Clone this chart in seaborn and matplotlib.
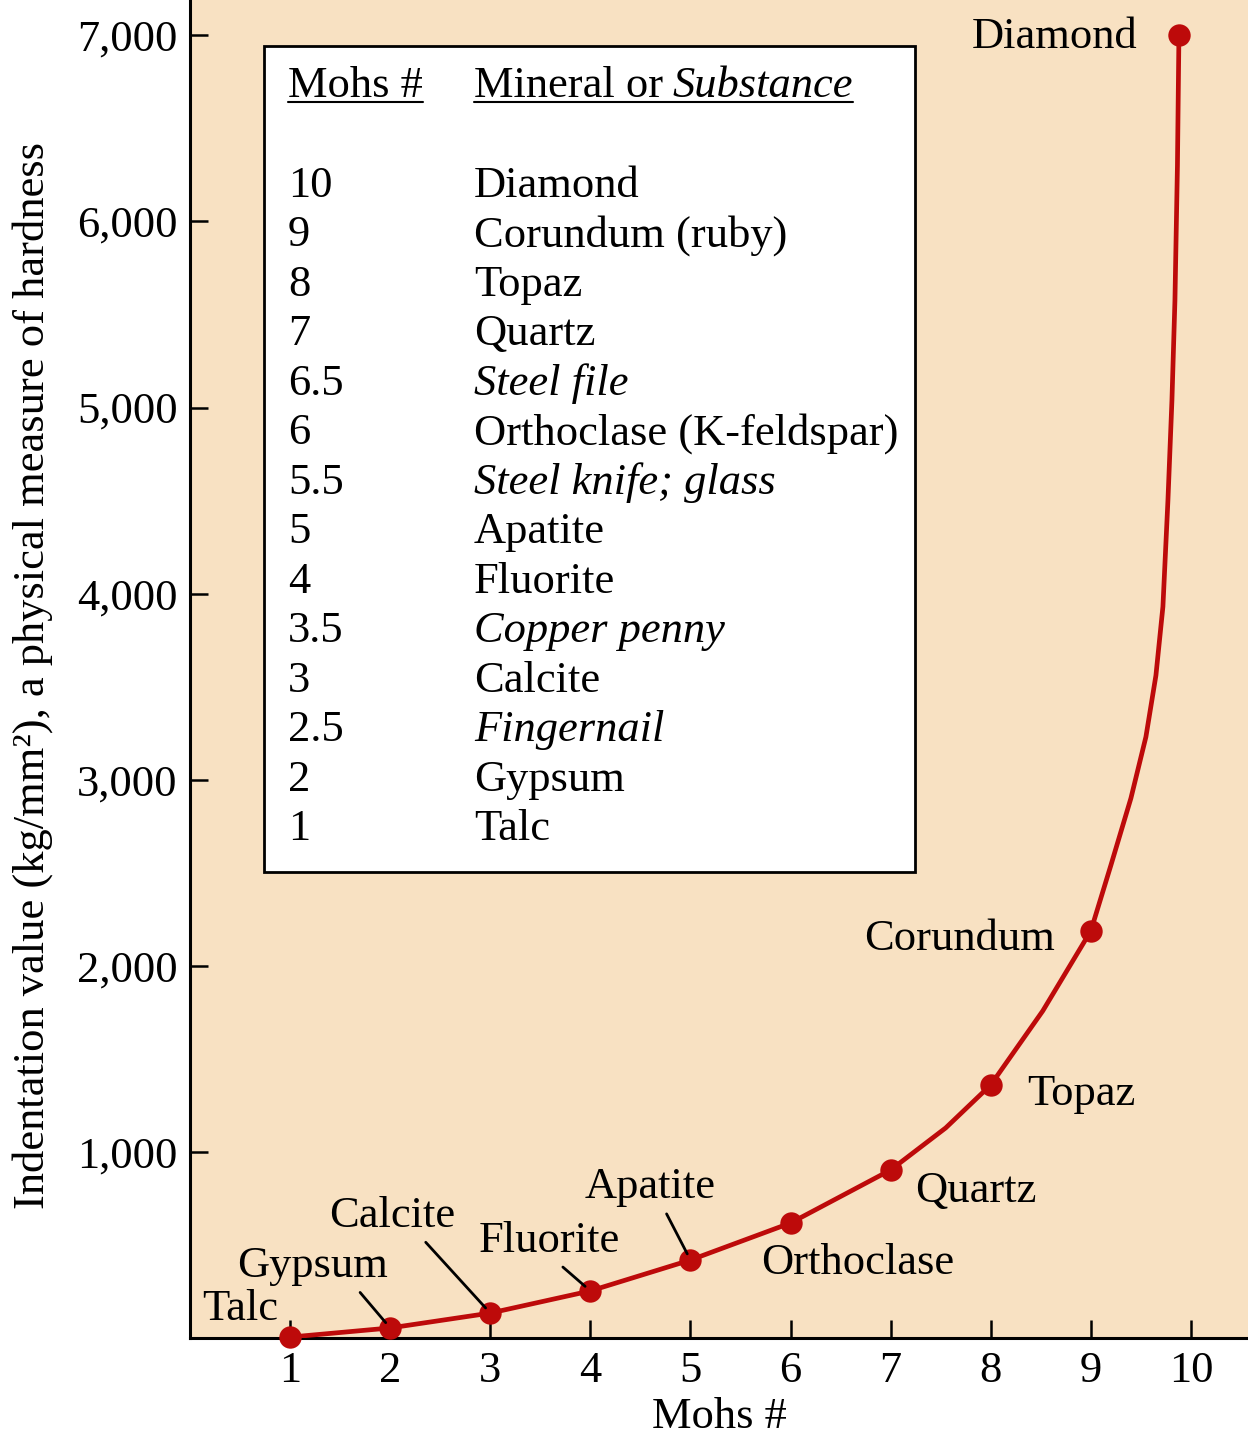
import seaborn as sns
import matplotlib.pyplot as plt
from matplotlib.patches import Rectangle
from matplotlib.lines import Line2D

# Mohs scale minerals and their indentation hardness (kg/mm^2)
mohs = [1, 2, 3, 4, 5, 6, 7, 8, 9, 10]
minerals = ['Talc', 'Gypsum', 'Calcite', 'Fluorite', 'Apatite',
            'Orthoclase', 'Quartz', 'Topaz', 'Corundum', 'Diamond']
indentation = [5, 54, 134, 253, 419, 618, 903, 1360, 2188, 7000]
# where the dots are drawn along x (the Diamond dot sits just short of 10)
dot_x = [1, 2, 3, 4, 5, 6, 7, 8, 9, 9.88]

# points
curve_x = [1, 2, 3, 4, 5, 6, 7, 7.55, 8, 8.52, 9, 9.20, 9.40, 9.55, 9.65,
           9.72, 9.77, 9.81, 9.84, 9.865, 9.88]
curve_y = [5, 54, 134, 253, 419, 618, 903, 1129, 1360, 1758, 2188, 2540,
           2900, 3230, 3560, 3930, 4500, 5038, 5575, 6300, 7000]

# reference table in the box
table_mohs = ['10', '9', '8', '7', '6.5', '6', '5.5', '5', '4', '3.5',
              '3', '2.5', '2', '1']
table_names = ['Diamond', 'Corundum (ruby)', 'Topaz', 'Quartz', 'Steel file',
               'Orthoclase (K-feldspar)', 'Steel knife; glass', 'Apatite',
               'Fluorite', 'Copper penny', 'Calcite', 'Fingernail', 'Gypsum',
               'Talc']
table_substance = [False, False, False, False, True, False, True, False,
                   False, True, False, True, False, False]

x_ticks = [1, 2, 3, 4, 5, 6, 7, 8, 9, 10]
y_ticks = [1000, 2000, 3000, 4000, 5000, 6000, 7000]

RED = '#bd0a0a'
TAN = '#f8e1c2'
FS = 32

sns.set_theme(style='ticks')
plt.rcParams['font.family'] = ['Liberation Serif', 'DejaVu Serif']
plt.rcParams['text.color'] = 'black'
plt.rcParams['axes.labelcolor'] = 'black'

W, H = 1248, 1440
fig = plt.figure(figsize=(W / 100, H / 100), dpi=100)
fig.patch.set_facecolor('white')

# axes box in pixels: left 190, bottom 1338, runs to the top/right edge
L, B = 190, 1338
ax = fig.add_axes([L / W, 1 - B / H, (W - L) / W, B / H])
ax.set_facecolor(TAN)


def axfrac(px, py):
    return (px - L) / (W - L), (B - py) / B


sns.lineplot(x=curve_x, y=curve_y, sort=False, color=RED, lw=3.4, ax=ax,
             zorder=4)
sns.scatterplot(x=dot_x, y=indentation, s=260, color=RED, edgecolor=RED,
                linewidth=0, ax=ax, zorder=6, clip_on=False)

ax.set_xlim(0, 10.57)
ax.set_ylim(0, 7190)
ax.set_xticks(x_ticks)
ax.set_xticklabels([str(v) for v in x_ticks])
ax.set_yticks(y_ticks)
ax.set_yticklabels([f'{v:,}' for v in y_ticks])

for side in ['top', 'right']:
    ax.spines[side].set_visible(False)
for side in ['left', 'bottom']:
    ax.spines[side].set_linewidth(2.2)
    ax.spines[side].set_color('black')
ax.tick_params(direction='in', length=13, width=1.8, labelsize=FS,
               colors='black', pad=9)

ax.set_xlabel('Mohs #', fontsize=FS)
ax.xaxis.set_label_coords(0.5, -0.044)
ax.set_ylabel('Indentation value (kg/mm²), a physical measure of hardness',
              fontsize=FS)
ax.yaxis.set_label_coords(-0.1295, 0.4955)

# labels next to the dots; (text x, text y, leader line start as bbox fraction)
label_layout = {
    'Talc': (0.118, 156, None),
    'Gypsum': (0.469, 387, 0.78),
    'Calcite': (1.39, 656, 0.72),
    'Fluorite': (2.88, 521, 0.55),
    'Apatite': (3.94, 812, 0.60),
    'Orthoclase': (5.71, 403, None),
    'Quartz': (7.24, 790, None),
    'Topaz': (8.36, 1312, None),
    'Corundum': (6.73, 2145, None),
    'Diamond': (7.81, 6989, None),
}
for name, px, py in zip(minerals, dot_x, indentation):
    tx, ty, rel = label_layout[name]
    if rel is None:
        ax.text(tx, ty, name, fontsize=FS, ha='left', va='center', zorder=7)
    else:
        ax.annotate(name, xy=(px, py), xytext=(tx, ty), textcoords='data',
                    fontsize=FS, ha='left', va='center', zorder=7,
                    arrowprops=dict(arrowstyle='-', color='black', lw=2,
                                    shrinkA=3, shrinkB=5, relpos=(rel, 0)))

# table box
x0, y0 = axfrac(264, 872)
x1, y1 = axfrac(915, 46)
ax.add_patch(Rectangle((x0, y0), x1 - x0, y1 - y0, transform=ax.transAxes,
                       facecolor='white', edgecolor='black', lw=2, zorder=3))

col1 = axfrac(288, 0)[0]
col2 = axfrac(474, 0)[0]
hy = axfrac(0, 97)[1]
h1 = ax.text(col1, hy, 'Mohs #', transform=ax.transAxes, fontsize=FS,
             va='baseline', ha='left', zorder=4)
h2 = ax.text(col2, hy, 'Mineral or', transform=ax.transAxes, fontsize=FS,
             va='baseline', ha='left', zorder=4)
h3 = ax.annotate('Substance', xy=(1, 0), xycoords=h2, xytext=(7, 0),
                 textcoords='offset points', fontsize=FS, style='italic',
                 va='bottom', ha='left', zorder=4)

for i, (m, n, sub) in enumerate(zip(table_mohs, table_names, table_substance)):
    ry = axfrac(0, 197 + 49.46 * i)[1]
    ax.text(col1, ry, m, transform=ax.transAxes, fontsize=FS, va='baseline',
            ha='left', zorder=4)
    ax.text(col2, ry, n, transform=ax.transAxes, fontsize=FS, va='baseline',
            ha='left', zorder=4, style='italic' if sub else 'normal')

# underline the table headers
fig.canvas.draw()
r = fig.canvas.get_renderer()
for left, right in [(h1, h1), (h2, h3)]:
    bl = left.get_window_extent(r)
    br = right.get_window_extent(r)
    uy = bl.y0 + 4
    fig.add_artist(Line2D([bl.x0 / W, br.x1 / W], [uy / H, uy / H],
                          color='black', lw=1.5, transform=fig.transFigure))

fig.savefig('out.png', dpi=100, facecolor='white')
